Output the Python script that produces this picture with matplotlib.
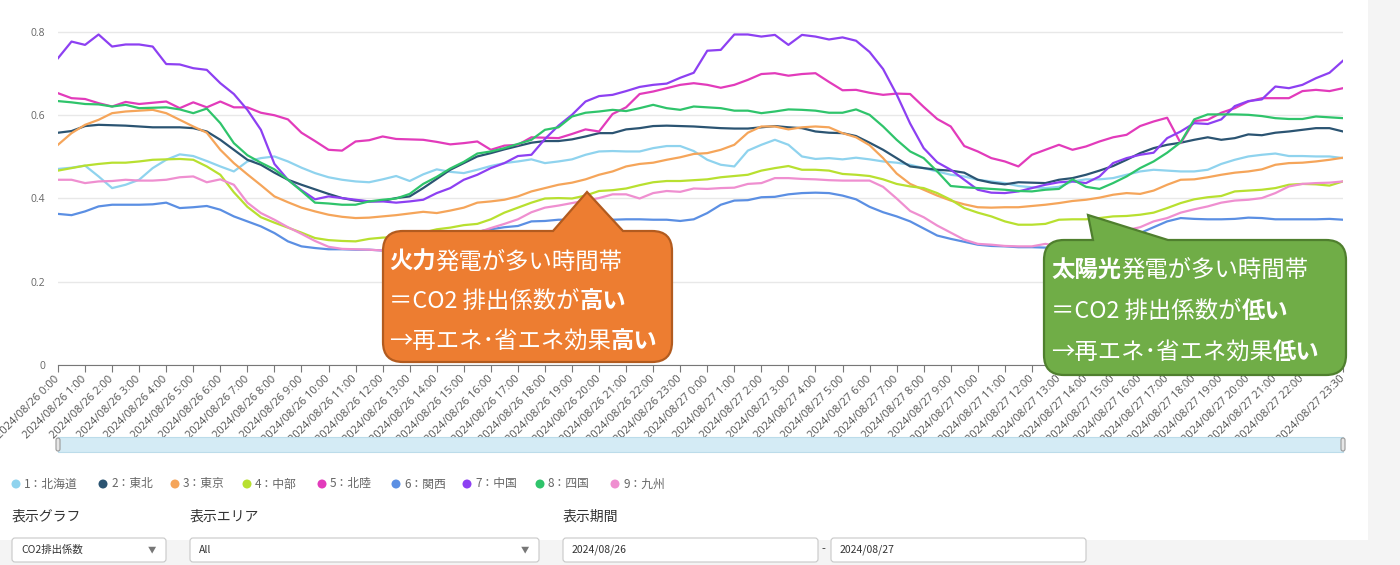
import numpy as np
import matplotlib
matplotlib.use("Agg")
import matplotlib.pyplot as plt
from matplotlib.path import Path
from matplotlib.patches import PathPatch, Rectangle, FancyBboxPatch, Circle

plt.rcParams['font.family'] = ['Noto Sans CJK JP', 'DejaVu Sans']

W, H = 1400, 565
JP = ['Noto Sans CJK JP', 'DejaVu Sans']
LAT = ['Open Sans', 'DejaVu Sans']

# ---- data: CO2 emission factor, 30 min slots 2024/08/26 0:00 - 2024/08/27 23:30
areas = ['1：北海道', '2：東北', '3：東京', '4：中部', '5：北陸',
         '6：関西', '7：中国', '8：四国', '9：九州']
colors = ['#8fd3ee', '#2b5472', '#f5a55a', '#b8e030', '#e23bbb',
          '#5b8fe3', '#8d40f2', '#2fc46b', '#ef8fd0']

hokkaido = [0.471, 0.474, 0.479, 0.453, 0.425, 0.433, 0.445, 0.473, 0.493, 0.506, 0.502, 0.490, 0.477, 0.465, 0.489, 0.497,
            0.501, 0.489, 0.474, 0.461, 0.451, 0.445, 0.441, 0.439, 0.446, 0.454, 0.442, 0.458, 0.470, 0.464, 0.461, 0.469,
            0.478, 0.485, 0.489, 0.494, 0.485, 0.489, 0.494, 0.505, 0.513, 0.514, 0.513, 0.513, 0.521, 0.526, 0.526, 0.514,
            0.493, 0.481, 0.477, 0.515, 0.529, 0.541, 0.529, 0.501, 0.495, 0.497, 0.494, 0.498, 0.494, 0.489, 0.486, 0.481,
            0.473, 0.465, 0.457, 0.453, 0.445, 0.441, 0.437, 0.430, 0.427, 0.425, 0.428, 0.441, 0.446, 0.446, 0.449, 0.457,
            0.465, 0.469, 0.467, 0.465, 0.465, 0.469, 0.483, 0.493, 0.501, 0.505, 0.508, 0.502, 0.502, 0.501, 0.501, 0.497]
tohoku = [0.558, 0.562, 0.574, 0.577, 0.576, 0.575, 0.573, 0.571, 0.571, 0.571, 0.569, 0.561, 0.541, 0.517, 0.493, 0.481,
          0.462, 0.445, 0.433, 0.422, 0.411, 0.401, 0.395, 0.393, 0.394, 0.401, 0.405, 0.425, 0.447, 0.469, 0.485, 0.501,
          0.509, 0.518, 0.526, 0.534, 0.538, 0.538, 0.542, 0.549, 0.557, 0.557, 0.566, 0.569, 0.574, 0.575, 0.574, 0.573,
          0.571, 0.569, 0.568, 0.568, 0.571, 0.574, 0.571, 0.569, 0.561, 0.558, 0.557, 0.550, 0.534, 0.517, 0.497, 0.477,
          0.473, 0.469, 0.467, 0.462, 0.445, 0.438, 0.434, 0.439, 0.438, 0.437, 0.445, 0.449, 0.457, 0.467, 0.478, 0.493,
          0.509, 0.521, 0.529, 0.534, 0.541, 0.547, 0.541, 0.545, 0.554, 0.552, 0.558, 0.561, 0.565, 0.569, 0.569, 0.561]
tokyo = [0.529, 0.557, 0.577, 0.589, 0.605, 0.609, 0.611, 0.613, 0.605, 0.589, 0.573, 0.558, 0.517, 0.485, 0.458, 0.432,
         0.405, 0.391, 0.378, 0.369, 0.361, 0.356, 0.353, 0.354, 0.357, 0.360, 0.364, 0.368, 0.365, 0.371, 0.378, 0.390,
         0.393, 0.397, 0.405, 0.417, 0.425, 0.433, 0.438, 0.446, 0.457, 0.465, 0.477, 0.483, 0.486, 0.493, 0.499, 0.507,
         0.509, 0.517, 0.529, 0.558, 0.573, 0.573, 0.566, 0.571, 0.573, 0.571, 0.557, 0.547, 0.528, 0.497, 0.460, 0.435,
         0.421, 0.407, 0.395, 0.386, 0.379, 0.378, 0.379, 0.379, 0.382, 0.385, 0.389, 0.394, 0.397, 0.402, 0.409, 0.413,
         0.411, 0.419, 0.433, 0.445, 0.446, 0.451, 0.457, 0.462, 0.465, 0.470, 0.481, 0.485, 0.486, 0.489, 0.493, 0.498]
chubu = [0.467, 0.473, 0.479, 0.483, 0.486, 0.486, 0.489, 0.493, 0.494, 0.495, 0.493, 0.477, 0.457, 0.415, 0.380, 0.355,
         0.342, 0.330, 0.318, 0.305, 0.300, 0.298, 0.297, 0.303, 0.306, 0.307, 0.310, 0.318, 0.326, 0.330, 0.336, 0.339,
         0.350, 0.366, 0.378, 0.390, 0.400, 0.401, 0.400, 0.407, 0.418, 0.420, 0.424, 0.432, 0.439, 0.442, 0.442, 0.444,
         0.446, 0.451, 0.454, 0.457, 0.467, 0.473, 0.478, 0.469, 0.469, 0.467, 0.459, 0.457, 0.454, 0.446, 0.435, 0.429,
         0.425, 0.413, 0.397, 0.377, 0.366, 0.357, 0.345, 0.337, 0.337, 0.339, 0.349, 0.350, 0.350, 0.353, 0.357, 0.358,
         0.361, 0.366, 0.377, 0.389, 0.398, 0.403, 0.406, 0.417, 0.419, 0.421, 0.425, 0.433, 0.435, 0.434, 0.431, 0.441]
hokuriku = [0.653, 0.641, 0.639, 0.629, 0.621, 0.632, 0.627, 0.630, 0.633, 0.617, 0.631, 0.619, 0.633, 0.619, 0.619, 0.606,
            0.600, 0.590, 0.558, 0.538, 0.517, 0.515, 0.537, 0.540, 0.549, 0.543, 0.542, 0.541, 0.536, 0.530, 0.533, 0.537,
            0.517, 0.527, 0.529, 0.547, 0.546, 0.545, 0.555, 0.566, 0.561, 0.603, 0.619, 0.651, 0.657, 0.665, 0.673, 0.677,
            0.673, 0.666, 0.673, 0.685, 0.699, 0.701, 0.695, 0.699, 0.701, 0.680, 0.660, 0.661, 0.654, 0.649, 0.652, 0.651,
            0.620, 0.591, 0.573, 0.526, 0.513, 0.497, 0.489, 0.477, 0.505, 0.517, 0.529, 0.517, 0.525, 0.537, 0.547, 0.553,
            0.574, 0.585, 0.594, 0.533, 0.586, 0.589, 0.606, 0.617, 0.633, 0.641, 0.641, 0.641, 0.658, 0.661, 0.658, 0.665]
kansai = [0.363, 0.360, 0.369, 0.381, 0.385, 0.385, 0.385, 0.386, 0.390, 0.377, 0.379, 0.382, 0.373, 0.357, 0.345, 0.333,
          0.317, 0.297, 0.285, 0.281, 0.278, 0.278, 0.277, 0.277, 0.275, 0.276, 0.278, 0.283, 0.290, 0.300, 0.310, 0.320,
          0.326, 0.331, 0.334, 0.345, 0.346, 0.349, 0.349, 0.349, 0.349, 0.349, 0.350, 0.350, 0.349, 0.349, 0.346, 0.350,
          0.365, 0.385, 0.395, 0.396, 0.403, 0.404, 0.410, 0.413, 0.414, 0.413, 0.407, 0.398, 0.380, 0.367, 0.357, 0.345,
          0.328, 0.311, 0.303, 0.296, 0.289, 0.286, 0.285, 0.283, 0.283, 0.282, 0.282, 0.283, 0.285, 0.292, 0.300, 0.310,
          0.317, 0.331, 0.345, 0.353, 0.351, 0.350, 0.350, 0.351, 0.354, 0.353, 0.350, 0.350, 0.350, 0.350, 0.351, 0.349]
chugoku = [0.737, 0.777, 0.769, 0.794, 0.765, 0.770, 0.770, 0.765, 0.723, 0.722, 0.713, 0.709, 0.677, 0.651, 0.613, 0.565,
           0.483, 0.445, 0.420, 0.398, 0.405, 0.401, 0.397, 0.393, 0.393, 0.390, 0.393, 0.397, 0.413, 0.425, 0.445, 0.457,
           0.473, 0.485, 0.502, 0.505, 0.543, 0.575, 0.601, 0.633, 0.646, 0.649, 0.658, 0.668, 0.673, 0.676, 0.690, 0.702,
           0.755, 0.757, 0.794, 0.794, 0.789, 0.793, 0.769, 0.793, 0.789, 0.782, 0.787, 0.779, 0.752, 0.711, 0.650, 0.580,
           0.521, 0.487, 0.469, 0.445, 0.421, 0.414, 0.413, 0.417, 0.425, 0.433, 0.439, 0.441, 0.437, 0.453, 0.485, 0.497,
           0.505, 0.510, 0.545, 0.561, 0.581, 0.579, 0.590, 0.622, 0.634, 0.638, 0.669, 0.665, 0.673, 0.689, 0.702, 0.731]
shikoku = [0.634, 0.631, 0.627, 0.626, 0.621, 0.625, 0.617, 0.618, 0.619, 0.614, 0.605, 0.616, 0.581, 0.533, 0.504, 0.486,
           0.470, 0.445, 0.418, 0.390, 0.388, 0.385, 0.385, 0.393, 0.397, 0.400, 0.411, 0.435, 0.452, 0.472, 0.488, 0.508,
           0.513, 0.521, 0.531, 0.541, 0.565, 0.571, 0.597, 0.606, 0.609, 0.613, 0.610, 0.617, 0.625, 0.617, 0.613, 0.621,
           0.619, 0.617, 0.611, 0.611, 0.605, 0.609, 0.614, 0.613, 0.611, 0.606, 0.606, 0.614, 0.601, 0.573, 0.541, 0.513,
           0.497, 0.465, 0.430, 0.427, 0.425, 0.423, 0.421, 0.418, 0.417, 0.421, 0.423, 0.446, 0.428, 0.423, 0.437, 0.453,
           0.473, 0.489, 0.510, 0.535, 0.590, 0.602, 0.602, 0.602, 0.601, 0.598, 0.593, 0.591, 0.591, 0.597, 0.595, 0.593]
kyushu = [0.445, 0.445, 0.437, 0.441, 0.442, 0.445, 0.443, 0.443, 0.445, 0.451, 0.453, 0.439, 0.446, 0.433, 0.390, 0.365,
          0.349, 0.331, 0.315, 0.298, 0.284, 0.279, 0.278, 0.277, 0.275, 0.274, 0.275, 0.280, 0.288, 0.298, 0.307, 0.318,
          0.329, 0.339, 0.350, 0.367, 0.378, 0.383, 0.389, 0.395, 0.401, 0.410, 0.410, 0.400, 0.413, 0.418, 0.416, 0.424,
          0.423, 0.425, 0.426, 0.435, 0.437, 0.449, 0.449, 0.447, 0.446, 0.444, 0.443, 0.443, 0.443, 0.428, 0.400, 0.370,
          0.355, 0.335, 0.318, 0.301, 0.291, 0.289, 0.286, 0.285, 0.285, 0.291, 0.286, 0.290, 0.297, 0.305, 0.315, 0.324,
          0.331, 0.345, 0.353, 0.366, 0.374, 0.381, 0.390, 0.395, 0.397, 0.401, 0.413, 0.429, 0.435, 0.437, 0.438, 0.441]

series = [hokkaido, tohoku, tokyo, chubu, hokuriku, kansai, chugoku, shikoku, kyushu]

# hourly tick labels, last one is the final slot
tick_labels = ([f'2024/08/26 {h}:00' for h in range(24)]
               + [f'2024/08/27 {h}:00' for h in range(23)]
               + ['2024/08/27 23:30'])
tick_pos = list(range(0, 94, 2)) + [95]

y_ticks = [0, 0.2, 0.4, 0.6, 0.8]
y_labels = ['0', '0.2', '0.4', '0.6', '0.8']


def callout_path(x0, y0, x1, y1, r, bx0, bx1, ax_, ay_):
    '''rounded box with a pointer on the top edge (pixel coords, y down)'''
    verts = [(x0 + r, y0), (bx0, y0), (ax_, ay_), (bx1, y0), (x1 - r, y0),
             (x1, y0), (x1, y0 + r), (x1, y1 - r),
             (x1, y1), (x1 - r, y1), (x0 + r, y1),
             (x0, y1), (x0, y1 - r), (x0, y0 + r),
             (x0, y0), (x0 + r, y0), (x0 + r, y0)]
    codes = [Path.MOVETO, Path.LINETO, Path.LINETO, Path.LINETO, Path.LINETO,
             Path.CURVE3, Path.CURVE3, Path.LINETO,
             Path.CURVE3, Path.CURVE3, Path.LINETO,
             Path.CURVE3, Path.CURVE3, Path.LINETO,
             Path.CURVE3, Path.CURVE3, Path.CLOSEPOLY]
    return Path(verts, codes)


def rich_text(ax, x, y, parts, size, color='white'):
    '''draw segments of (text, bold) one after another'''
    r = ax.figure.canvas.get_renderer()
    cx = x
    for s, bold in parts:
        t = ax.text(cx, y, s, fontsize=size, color=color, family=JP,
                    fontweight='bold' if bold else 'normal',
                    ha='left', va='center')
        cx += t.get_window_extent(renderer=r).width


fig = plt.figure(figsize=(W / 100, H / 100), dpi=100, facecolor='#f4f4f4')
fig.add_artist(Rectangle((0, 1 - 540 / H), 1368 / W, 540 / H,
                         transform=fig.transFigure, facecolor='white',
                         edgecolor='none', zorder=-10))

ax = fig.add_axes([58 / W, 1 - 365 / H, (1343 - 58) / W, (365 - 19.5) / H])
ax.set_facecolor('none')
x = np.arange(len(hokkaido))
for vals, col in zip(series, colors):
    ax.plot(x, vals, color=col, lw=1.6, solid_joinstyle='round')

ax.set_xlim(0, 95)
ax.set_ylim(0, 0.83)
ax.set_yticks(y_ticks)
ax.set_yticklabels(y_labels, family=LAT)
ax.grid(axis='y', color='#e8e8e8', lw=1)
ax.set_axisbelow(True)
for s in ['top', 'right', 'left']:
    ax.spines[s].set_visible(False)
ax.spines['bottom'].set_color('#777')
ax.tick_params(axis='y', length=0, pad=9, labelsize=7.5, labelcolor='#666')
ax.set_xticks(tick_pos)
ax.set_xticklabels(tick_labels, rotation=45, ha='right', va='center',
                   rotation_mode='anchor', fontsize=8, color='#555', family=LAT)
ax.tick_params(axis='x', length=5, color='#777', pad=4)

# overlay in pixel coordinates for annotations and page controls
ov = fig.add_axes([0, 0, 1, 1], zorder=5)
ov.set_xlim(0, W)
ov.set_ylim(H, 0)
ov.axis('off')

# range slider
ov.add_patch(Rectangle((58, 437), 1285, 15, facecolor='#d4ebf5', edgecolor='#bcdcea', lw=0.8))
for hx in [58, 1343]:
    ov.add_patch(FancyBboxPatch((hx - 2, 438), 4, 13, boxstyle='round,pad=0,rounding_size=2',
                                facecolor='#e6e6e6', edgecolor='#999', lw=0.8))

# callouts
ov.add_patch(PathPatch(callout_path(383, 231, 672, 362, 20, 553, 623, 587, 192),
                       facecolor='#ed7d31', edgecolor='#b25b1f', lw=1.6))
rich_text(ov, 389, 262, [('火力', True), ('発電が多い時間帯', False)], 16.8)
rich_text(ov, 389, 301, [('＝CO2 排出係数が', False), ('高い', True)], 16.8)
rich_text(ov, 389, 341, [('→再エネ･省エネ効果', False), ('高い', True)], 16.8)

ov.add_patch(PathPatch(callout_path(1044, 240, 1346, 375, 20, 1093, 1168, 1088, 215),
                       facecolor='#70ad47', edgecolor='#4f7f2e', lw=1.6))
rich_text(ov, 1051, 270, [('太陽光', True), ('発電が多い時間帯', False)], 16.8)
rich_text(ov, 1051, 311, [('＝CO2 排出係数が', False), ('低い', True)], 16.8)
rich_text(ov, 1051, 352, [('→再エネ･省エネ効果', False), ('低い', True)], 16.8)

# legend
leg_x = [16, 103, 175, 247, 322, 396, 467, 540, 615]
for lx, name, col in zip(leg_x, areas, colors):
    ov.add_patch(Circle((lx, 484), 4.5, facecolor=col, edgecolor='none'))
    ov.text(lx + 8, 484, name, fontsize=8.5, color='#666', va='center', ha='left', family=JP)

# page controls
for cx, lab in [(12, '表示グラフ'), (190, '表示エリア'), (563, '表示期間')]:
    ov.text(cx, 517, lab, fontsize=10, color='#333', va='center', ha='left', family=JP)

for bx, bw, txt, arrow in [(12, 154, 'CO2排出係数', True), (190, 349, 'All', True),
                           (563, 255, '2024/08/26', False), (831, 255, '2024/08/27', False)]:
    ov.add_patch(FancyBboxPatch((bx, 538), bw, 24, boxstyle='round,pad=0,rounding_size=3',
                                facecolor='white', edgecolor='#c8c8c8', lw=0.8))
    ov.text(bx + 9, 550, txt, fontsize=7.5, color='#333', va='center', ha='left', family=JP)
    if arrow:
        ov.text(bx + bw - 14, 550, '▼', fontsize=6, color='#777', va='center', ha='center', family=JP)
ov.text(823, 549, '-', fontsize=8, color='#333', va='center', ha='center')

fig.savefig('out.png', dpi=100)
